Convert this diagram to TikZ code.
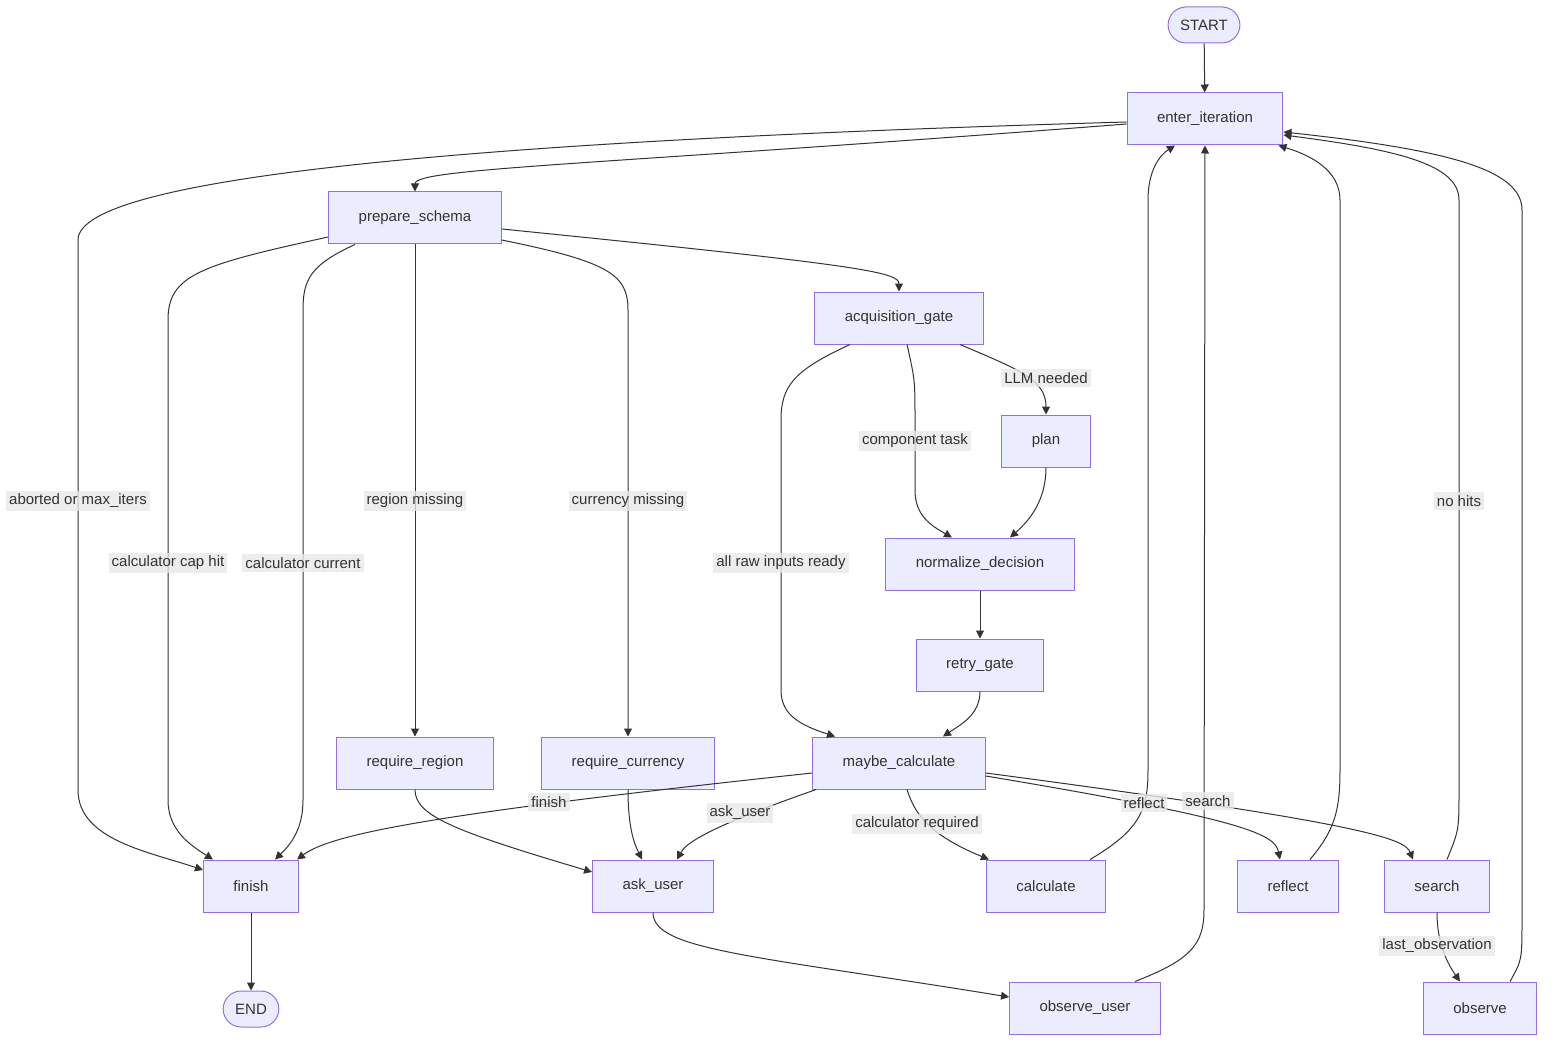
\documentclass[tikz,border=0pt]{standalone}
\usepackage{fontspec}
\setmainfont{Liberation Sans}
\usepackage{xcolor}
\usetikzlibrary{arrows.meta,positioning,calc}

\definecolor{nodefill}{HTML}{ECECFF}
\definecolor{nodeline}{HTML}{9370DB}
\definecolor{edgeline}{HTML}{333333}
\definecolor{labelbg}{HTML}{E8E8E8}
\definecolor{textgray}{HTML}{333333}

\begin{document}
\begin{tikzpicture}[x=0.5pt, y=-0.5pt, font=\fontsize{7.5pt}{9pt}\selectfont, text=textgray,
    block/.style={rectangle, draw=nodeline, fill=nodefill, line width=0.5pt, inner xsep=15pt, minimum height=26pt},
    term/.style={rectangle, rounded corners=9pt, draw=nodeline, fill=nodefill, line width=0.5pt, inner xsep=6pt, minimum height=18pt},
    lbl/.style={fill=labelbg, fill opacity=0.8, text opacity=1, inner sep=1.5pt},
    flow/.style={draw=edgeline, line width=0.5pt, -{Triangle[length=4pt,width=4pt]}}]

    \useasboundingbox (0,0) rectangle (1560,1054);

    % Entry
    \node[term] (start) at (1204,25) {START};
    \node[block] (enter) at (1205,119) {enter\_iteration};
    \node[block] (prep) at (415,218) {prepare\_schema};

    % Acquisition branch
    \node[block] (acq) at (899,318) {acquisition\_gate};
    \node[block] (plan) at (1046,441) {plan};
    \node[block] (norm) at (980,564) {normalize\_decision};
    \node[block, below=24pt of norm] (retry) {retry\_gate};
    \node[block] (maybe) at (899,763) {maybe\_calculate};

    % Requirements
    \node[block] (reqreg) at (415,763) {require\_region};
    \node[block] (reqcur) at (628,763) {require\_currency};

    % Actions
    \node[block] (finish) at (251,886) {finish};
    \node[block] (ask) at (653,886) {ask\_user};
    \node[block] (calc) at (1046,886) {calculate};
    \node[block] (reflect) at (1288,886) {reflect};
    \node[block] (search) at (1437,886) {search};
    \node[term, below=39pt of finish] (stop) {END};
    \node[block] (obsuser) at (1085,1008) {observe\_user};
    \node[block] (observe) at (1480,1008) {observe};

    % Arrows
    \draw[flow] (start) -- (enter);
    \draw[flow] ([yshift=-2.5pt]enter.west) .. controls (600,165) and (415,168) .. (prep.north);
    \draw[flow] ([yshift=-1.5pt]enter.west) .. controls (500,140) and (78,175) .. (78,240) -- (78,790) .. controls (78,840) and (150,852) .. ([yshift=8pt]finish.west);
    \draw[flow] ([yshift=-9.5pt]prep.west) .. controls (200,265) and (168,275) .. (168,320) -- (168,800) .. controls (168,830) and (190,845) .. ([xshift=-19pt]finish.north);
    \draw[flow] ([xshift=-30pt]prep.south) .. controls (310,265) and (303,280) .. (303,310) -- (303,800) .. controls (303,830) and (290,845) .. ([xshift=12pt]finish.north);
    \draw[flow] (prep) -- (reqreg);
    \draw[flow] ([yshift=-11pt]prep.east) .. controls (610,262) and (628,275) .. (628,310) -- (reqcur.north);
    \draw[flow] ([yshift=-5.5pt]prep.east) .. controls (860,265) and (899,272) .. (acq.north);
    \draw[flow] ([xshift=-24.5pt]acq.south) .. controls (795,370) and (781,385) .. (781,420) -- (781,690) .. controls (781,715) and (800,725) .. ([xshift=-32pt]maybe.north);
    \draw[flow] ([xshift=4pt]acq.south) .. controls (915,380) .. (915,420) -- (915,490) .. controls (915,515) and (930,525) .. ([xshift=-14pt]norm.north);
    \draw[flow] ([xshift=30.5pt]acq.south) .. controls (1020,370) and (1046,380) .. (plan.north);
    \draw[flow] (plan.south) .. controls (1046,500) and (1030,520) .. ([xshift=15pt]norm.north);
    \draw[flow] (norm) -- (retry);
    \draw[flow] (retry.south) .. controls (980,715) and (960,725) .. ([xshift=22pt]maybe.north);
    \draw[flow] ([yshift=-5pt]maybe.west) .. controls (420,815) and (330,835) .. ([xshift=-1pt]finish.north east);
    \draw[flow] ([xshift=2pt]maybe.south west) .. controls (700,830) and (685,845) .. ([xshift=12pt]ask.north);
    \draw[flow] ([xshift=4pt]maybe.south) .. controls (915,815) and (930,835) .. ([xshift=1.5pt]calc.north west);
    \draw[flow] ([yshift=-6.5pt]maybe.east) .. controls (1250,820) and (1275,835) .. ([xshift=-4pt]reflect.north);
    \draw[flow] ([yshift=-5pt]maybe.east) .. controls (1380,825) and (1405,840) .. ([xshift=-12pt]search.north);
    \draw[flow] (reqreg.south) .. controls (415,815) and (450,830) .. ([yshift=7pt]ask.west);
    \draw[flow] (reqcur.south) .. controls (628,830) and (635,845) .. ([xshift=-5.5pt]ask.north);
    \draw[flow] ([xshift=22pt]calc.north) .. controls (1140,830) and (1148,810) .. (1148,770) -- (1148,200) .. controls (1148,170) and (1160,155) .. ([xshift=-15pt]enter.south);
    \draw[flow] ([xshift=11pt]reflect.north) .. controls (1335,830) and (1340,810) .. (1340,770) -- (1340,200) .. controls (1340,170) and (1310,155) .. ([xshift=-2.5pt]enter.south east);
    \draw[flow] ([xshift=5pt]search.north) .. controls (1459,830) .. (1459,790) -- (1459,200) .. controls (1459,165) and (1400,150) .. ([yshift=-8pt]enter.east);
    \draw[flow] (search.south) .. controls (1437,940) and (1445,960) .. ([xshift=-10pt]observe.north);
    \draw[flow] ([xshift=15pt]observe.north) .. controls (1522,960) .. (1522,920) -- (1522,210) .. controls (1522,170) and (1450,150) .. ([yshift=-6.5pt]enter.east);
    \draw[flow] ([xshift=25pt]obsuser.north) .. controls (1190,960) and (1204,945) .. (1204,910) -- (enter.south);
    \draw[flow] (ask.south) .. controls (653,950) and (750,955) .. ([yshift=5.5pt]obsuser.west);
    \draw[flow] (finish) -- (stop);

    % Edge labels
    \node[lbl] (laborted) at (78,501) {aborted or max\_iters};
    \node[lbl] (lcaphit) at (168,563) {calculator cap hit};
    \node[lbl] (lcurrent) at (303,563) {calculator current};
    \node[lbl] (lregion) at (415,501) {region missing};
    \node[lbl] (lcurrency) at (628,501) {currency missing};
    \node[lbl] (lraw) at (781,563) {all raw inputs ready};
    \node[lbl] (lcomp) at (915,441) {component task};
    \node[lbl] (lllm) at (1046,378) {LLM needed};
    \node[lbl] (lnohits) at (1459,501) {no hits};
    \node[lbl] (lfinish) at (549,802) {finish};
    \node[lbl] (lask) at (740,813) {ask\_user};
    \node[lbl] (lcalc) at (917,824) {calculator required};
    \node[lbl] (lreflect) at (1144,803) {reflect};
    \node[lbl] (lsearch) at (1208,801) {search};
    \node[lbl] (llast) at (1437,946) {last\_observation};

\end{tikzpicture}
\end{document}
